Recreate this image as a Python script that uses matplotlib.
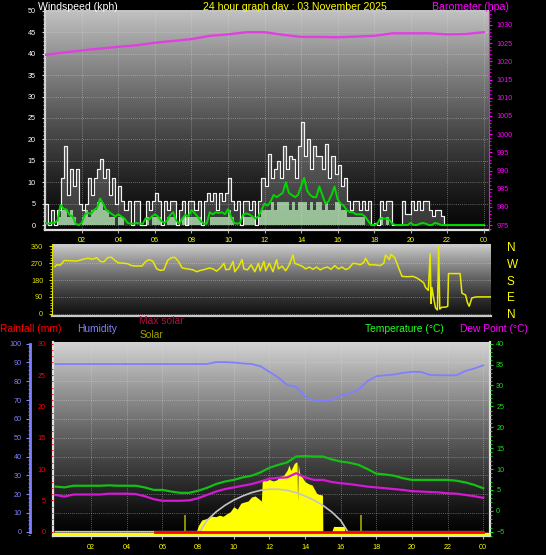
import matplotlib
matplotlib.use('Agg')

import matplotlib.pyplot as plt  # noqa: E402
import numpy as np               # noqa: E402
from matplotlib.ticker import MultipleLocator  # noqa: E402

plt.rcParams['font.family'] = ['Liberation Sans', 'DejaVu Sans']

W, H, DPI = 546, 555, 100

# ---------------------------------------------------------------- data ----
# wind (kph), 10-minute samples, one row per hour, last value = 24:00
wind_gust = [
    5, 0, 3.5, 0, 3.5, 11,
    18.5, 7, 13, 9, 13, 5,
    3.5, 5, 11, 7, 11, 13,
    15.5, 11, 13, 7, 11, 5,
    9, 5.5, 3.5, 5.5, 0, 5.5,
    5.5, 0, 0, 5.5, 3.5, 5.5,
    7.5, 5.5, 0, 5.5, 3.5, 5.5,
    5.5, 0, 3.5, 5.5, 0, 5.5,
    5.5, 3.5, 5.5, 0, 5.5, 7.5,
    5.5, 7.5, 3.5, 7.5, 5.5, 7.5,
    11, 5.5, 3.5, 5.5, 0, 5.5,
    5.5, 3.5, 5.5, 0, 5.5, 11,
    9, 16.5, 11, 13, 15, 11,
    18.5, 13, 16, 15.5, 11, 18.5,
    24, 16, 20, 13, 18.5, 16,
    16, 13, 19, 11, 16, 12,
    14, 9, 11, 5.5, 3.5, 5.5,
    5.5, 3.5, 5.5, 3.5, 5.5, 0,
    0.5, 0, 5.5, 3.5, 5.5, 5.5,
    0, 0, 0, 5.5, 2.5, 2.5,
    5.5, 3.5, 5.5, 3.5, 5.5, 5.5,
    3.5, 2, 3.5, 3.5, 2, 0,
    0, 0, 0, 0, 0, 0,
    0, 0, 0, 0, 0, 0,
    0,
]
wind_avg = [
    0.5, 0.3, 0.5, 0.5, 1.0, 4.7,
    3.8, 3.6, 2.3, 2.0, 0.3, 0.0,
    0.5, 2.5, 2.8, 2.6, 3.5, 4.0,
    6.2, 5.0, 3.5, 3.0, 2.5, 2.0,
    2.5, 2.0, 1.5, 0.5, 0.3, 0.3,
    0.5, 0.3, 0.3, 1.6, 1.2, 2.0,
    2.5, 2.0, 1.0, 0.5, 1.0, 2.3,
    3.0, 1.0, 0.3, 1.5, 2.4, 2.0,
    3.5, 2.8, 2.0, 1.0, 0.3, 0.3,
    3.0, 2.5, 3.0, 2.8, 3.0, 2.5,
    3.7, 2.0, 0.5, 0.3, 0.5, 2.5,
    2.7, 2.5, 2.0, 1.5, 2.0, 3.5,
    5.0, 4.5, 5.5, 7.0, 6.5, 7.0,
    7.5, 10.0, 7.5, 7.0, 6.5, 7.0,
    9.0, 11.0, 8.0, 7.0, 6.5, 6.5,
    9.0, 7.0, 5.0, 5.5, 7.0, 9.0,
    6.0, 5.0, 4.5, 3.5, 3.0, 3.0,
    2.5, 2.5, 2.5, 2.0, 1.0, 0.0,
    0.0, 0.3, 1.5, 1.5, 1.5, 1.2,
    0.3, 0.0, 0.0, 0.0, 0.0, 0.0,
    0.5, 0.0, 0.0, 0.3, 0.5, 0.3,
    0.0, 0.0, 0.5, 0.3, 0.0, 0.0,
    0, 0, 0, 0, 0, 0,
    0, 0, 0, 0, 0, 0,
    0,
]
wind_speed = [
    0, 0, 0, 0, 1.8, 3.6,
    3.6, 1.8, 3.6, 1.8, 0, 0,
    1.8, 3.6, 1.8, 3.6, 3.6, 5.4,
    5.4, 3.6, 3.6, 1.8, 1.8, 0,
    1.8, 1.8, 0, 0, 0, 0,
    0, 0, 0, 1.8, 0, 1.8,
    1.8, 1.8, 0, 0, 1.8, 1.8,
    1.8, 0, 0, 1.8, 1.8, 1.8,
    1.8, 1.8, 1.8, 0, 0, 0,
    1.8, 1.8, 1.8, 1.8, 1.8, 1.8,
    3.6, 1.8, 0, 0, 0, 1.8,
    1.8, 1.8, 1.8, 0, 1.8, 3.6,
    3.6, 3.6, 5.4, 3.6, 5.4, 5.4,
    5.4, 5.4, 3.6, 5.4, 3.6, 5.4,
    5.4, 5.4, 3.6, 5.4, 3.6, 5.4,
    5.4, 3.6, 5.4, 3.6, 3.6, 5.4,
    5.4, 3.6, 3.6, 1.8, 1.8, 1.8,
    1.8, 1.8, 1.8, 0, 0, 0,
    0, 0, 1.8, 0, 1.8, 0,
    0, 0, 0, 0, 0, 0,
    0, 0, 0, 0, 0, 0,
    0, 0, 0, 0, 0, 0,
    0, 0, 0, 0, 0, 0,
    0, 0, 0, 0, 0, 0,
    0,
]

# barometer (hPa), hourly 00..24
baro_hpa = [1021.8, 1022.4, 1023.0, 1023.5, 1024.0, 1024.4, 1025.1, 1025.6,
            1026.1, 1027.0, 1027.4, 1028.0, 1028.0, 1027.3, 1026.7, 1026.7,
            1026.6, 1026.8, 1027.0, 1027.7, 1027.7, 1027.7, 1027.4, 1027.5,
            1028.0]

# wind direction (degrees)
dir_hours = [0.0, 0.1, 0.3, 0.5, 0.8, 1.2, 1.5, 1.8, 2.1, 2.3, 2.5, 2.7, 2.9,
             3.1, 3.3, 3.5, 3.8, 4.0, 4.2, 4.5, 4.8, 5.0, 5.2, 5.4, 5.6, 5.8,
             6.0, 6.2, 6.4, 6.6, 6.8, 7.0, 7.3, 7.6, 7.8, 8.0, 8.2, 8.5, 8.7,
             8.9, 9.1, 9.3, 9.4, 9.6, 9.8, 9.9, 10.1, 10.3, 10.4, 10.6, 10.8,
             11.0, 11.2, 11.3, 11.5, 11.6, 11.8, 12.0, 12.2, 12.3, 12.5, 12.7,
             12.9, 13.1, 13.2, 13.4, 13.6, 13.8, 14.0, 14.2, 14.4, 14.6, 14.8,
             15.0, 15.2, 15.4, 15.6, 15.8, 16.0, 16.2, 16.4, 16.6, 16.8, 17.0,
             17.1, 17.3, 17.6, 17.9, 18.1, 18.2, 18.4, 18.5, 18.7, 18.9, 19.1,
             19.4, 19.7, 19.9, 20.1, 20.3, 20.4, 20.55, 20.65, 20.7, 20.75,
             20.85, 20.95, 21.05, 21.12, 21.18, 21.3, 21.5, 21.62, 21.66,
             22.3, 22.4, 22.6, 22.7, 22.8, 22.95, 23.2, 24.0]
dir_deg = [252, 262, 260, 285, 284, 282, 290, 297, 292, 300, 280, 278, 300,
           303, 285, 272, 270, 268, 258, 255, 256, 280, 290, 280, 240, 232,
           235, 285, 300, 302, 280, 245, 240, 235, 225, 232, 236, 245, 240,
           228, 245, 270, 236, 238, 280, 225, 250, 290, 240, 235, 262,
           225, 270, 230, 280, 230, 270, 225, 290, 240, 255, 230,
           262, 315, 270, 262, 255, 240, 250, 238, 250, 235, 245,
           250, 238, 258, 240, 250, 236, 245, 270, 268, 262, 275,
           297, 262, 262, 258, 270, 315, 290, 318, 300, 250, 200,
           198, 200, 192, 180, 165, 140, 125, 320, 55, 140,
           80, 30, 20, 360, 25, 35, 35, 40, 215,
           215, 110, 100, 60, 40, 85, 90, 90]

# humidity (%), temperature and dew point (deg C), half-hourly 00:00..24:00
humidity = [89.2] * 18 + [
    90.2, 90.2, 90.0, 89.5, 89.2, 88.0, 85.0, 82.0, 78.0, 77.0, 72.0, 69.5,
    70.0, 70.0, 72.5, 73.5, 75.5, 80.0, 82.7, 83.2, 83.6, 84.5, 85.0, 85.0,
    83.4, 83.2, 83.2, 83.2, 85.5, 86.8, 88.5]
temperature = [5.8, 5.6, 6.0, 6.0, 6.0, 6.0, 6.1, 6.0, 6.0, 6.0, 5.6, 5.0,
               5.0, 4.6, 4.3, 4.3, 4.8, 5.5, 6.4, 7.0, 7.4, 8.0, 8.4, 9.2,
               10.3, 11.0, 11.6, 13.0, 13.1, 13.0, 13.0, 12.3, 11.8, 11.5,
               11.0, 10.0, 8.9, 8.7, 8.4, 7.8, 7.4, 7.4, 7.4, 7.4, 7.4, 7.2,
               6.8, 6.2, 5.4]
dew_point = [3.8, 3.4, 3.9, 3.9, 3.9, 3.9, 4.1, 4.1, 4.1, 4.0, 3.5, 2.8,
             2.4, 2.4, 2.4, 2.5, 3.0, 3.8, 4.6, 5.2, 5.6, 6.0, 6.4, 7.0,
             7.7, 7.9, 8.0, 9.0, 8.0, 7.4, 7.4, 6.9, 6.6, 6.4, 6.1, 5.8,
             5.6, 5.4, 5.2, 5.0, 4.7, 4.6, 4.5, 4.4, 4.2, 4.1, 3.8, 3.5, 3.1]

# solar radiation (W/m2)
solar_hours = [0, 7.9, 8.0, 8.2, 8.5, 8.7, 9.0, 9.2, 9.4, 9.6, 9.8, 10.0,
               10.2, 10.4, 10.6, 10.8, 11.0, 11.2, 11.4, 11.55, 11.6, 11.8,
               12.0, 12.2, 12.4, 12.6, 12.8, 13.0, 13.1, 13.2, 13.4, 13.55,
               13.58, 13.62, 13.7, 14.0, 14.2, 14.4, 14.65, 14.8, 14.98,
               15.0, 15.5, 15.6, 16.2, 16.25, 24]
solar_wm2 = [0, 0, 30, 62, 71, 83, 80, 88, 82, 95, 106, 133, 120, 152, 158,
             163, 185, 190, 175, 163, 275, 270, 278, 270, 275, 295, 300, 328,
             355, 325, 364, 372, 160, 360, 310, 266, 255, 248, 204, 198, 195,
             0, 0, 28, 28, 0, 0]
max_solar_hours = [0, 8.1, 8.5, 9.0, 9.5, 10.0, 10.5, 11.0, 11.5, 12.0,
                   12.25, 12.5, 13.0, 13.5, 14.0, 14.5, 15.0, 15.5, 16.0,
                   16.4, 24]
max_solar_wm2 = [0, 0, 60, 105, 140, 168, 190, 208, 220, 226, 226, 226, 220,
                 208, 190, 168, 140, 105, 60, 0, 0]
sun_times = [7.25, 17.15]          # sunrise / sunset markers

# rainfall (mm)
rain_hours = [5.6, 24.0]
rain_mm = [0.0, 0.0]

hour_ticks = list(range(2, 25, 2))
hour_labels = ['%02d' % (h % 24) for h in hour_ticks]

# -------------------------------------------------------------- helpers ---
fig = plt.figure(figsize=(W / DPI, H / DPI), dpi=DPI, facecolor='black')


def px_axes(x0, y0, x1, y1):
    """Axes placed by pixel box (left, top, right, bottom)."""
    return fig.add_axes([x0 / W, 1 - y1 / H, (x1 - x0) / W, (y1 - y0) / H])


def gradient(ax, top, bottom, gamma=1.3):
    t = np.linspace(0, 1, 256)[:, None]
    v = (bottom + (top - bottom) * t ** gamma) / 255.0
    img = np.dstack([v, v, v])
    ax.imshow(img, extent=[0, 1, 0, 1], transform=ax.transAxes,
              origin='lower', aspect='auto', zorder=0,
              interpolation='bilinear')


def hide_spines(ax, keep=()):
    for name, sp in ax.spines.items():
        sp.set_visible(name in keep)


GRID = dict(color='#e0e0e0', lw=0.6, ls=(0, (1, 1.5)), alpha=0.5)
TICK_FS = 5.2

# ------------------------------------------------- panel 1: wind + baro ---
wind_hours = np.linspace(0, 24, len(wind_gust))
baro_hours = np.linspace(0, 24, len(baro_hpa))

ax1 = px_axes(45.3, 10, 489.2, 229.5)
gradient(ax1, 195, 8)
ax1.set_xlim(0, 24.3)
ax1.set_ylim(-1.05, 50.2)
ax1.set_yticks(range(0, 51, 5))
ax1.yaxis.set_minor_locator(MultipleLocator(1))
ax1.set_xticks(hour_ticks)
ax1.set_xticklabels(hour_labels)
ax1.grid(True, **GRID)
ax1.set_axisbelow(False)
# gust trace drawn densely in the original: a faint fill gives that body
ax1.fill_between(wind_hours, wind_gust, step='post', color='#e6e6e6',
                 alpha=0.22, lw=0, zorder=2)
ax1.fill_between(wind_hours, wind_speed, step='post', color='#c0f8c0',
                 alpha=0.7, lw=0, zorder=2)
ax1.step(wind_hours, wind_gust, where='post', color='#f2f2f2', lw=0.85,
         zorder=3)
ax1.plot(wind_hours, wind_avg, color='#00d800', lw=1.4, zorder=4)
ax1.tick_params(axis='y', which='both', colors='#d8d8d8', labelsize=TICK_FS,
                labelcolor='#fffff0', length=2.5, pad=4.5)
ax1.tick_params(axis='y', which='minor', length=1.5)
ax1.tick_params(axis='x', colors='#b0b0b0', labelcolor='#ffff00',
                labelsize=TICK_FS, length=2, pad=3.5)
hide_spines(ax1, keep=('left', 'bottom'))
ax1.spines['left'].set_color('#d0d0d0')
ax1.spines['left'].set_linewidth(1.6)
ax1.spines['bottom'].set_color('#e0e0e0')
ax1.spines['bottom'].set_linewidth(1.6)

ax1b = ax1.twinx()
ax1b.plot(baro_hours, baro_hpa, color='#e040e0', lw=1.7, zorder=5)
ax1b.set_ylim(973.8, 1034.1)
ax1b.set_yticks(range(975, 1031, 5))
ax1b.yaxis.set_minor_locator(MultipleLocator(1))
ax1b.tick_params(axis='y', which='both', colors='#ff00ff',
                 labelsize=TICK_FS, length=2.5, pad=2.5)
ax1b.tick_params(axis='y', which='minor', length=1.5)
hide_spines(ax1b, keep=('right',))
ax1b.spines['right'].set_color('#ff00ff')
ax1b.spines['right'].set_linestyle((0, (1, 1)))

fig.text(38 / W, 1 - 9.8 / H, 'Windspeed (kph)', color='white',
         fontsize=7.6, va='baseline', ha='left')
fig.text(294.6 / W, 1 - 9.8 / H, '24 hour graph day : 03 November 2025',
         color='#ffff00', fontsize=7.6, va='baseline', ha='center')
fig.text(508.4 / W, 1 - 9.8 / H, 'Barometer (hpa)', color='#ff00ff',
         fontsize=7.6, va='baseline', ha='right')

# ------------------------------------------ panel 2: wind direction -------
ax2 = px_axes(52.2, 244.4, 491, 316)
gradient(ax2, 205, 18)
ax2.set_xlim(-0.15, 24.0)
ax2.set_ylim(-12.3, 371.2)
ax2.set_yticks([0, 90, 180, 270, 360])
ax2.yaxis.set_minor_locator(MultipleLocator(15))
ax2.set_xticks([])
ax2.grid(True, axis='y', **GRID)
ax2.plot(dir_hours, dir_deg, color='#e8e800', lw=1.1, zorder=3)
ax2.tick_params(axis='y', which='both', colors='#e0e000',
                labelsize=TICK_FS, length=2.5, pad=4)
ax2.tick_params(axis='y', which='minor', length=1.5)
hide_spines(ax2, keep=('left', 'bottom'))
ax2.spines['left'].set_color('#e0e000')
ax2.spines['left'].set_linestyle((0, (1, 1)))
ax2.spines['bottom'].set_color('#c8c8c8')
ax2.spines['bottom'].set_linewidth(1.6)

ax2b = ax2.twinx()
ax2b.set_ylim(ax2.get_ylim())
ax2b.set_yticks([360, 270, 180, 90, 0])
ax2b.set_yticklabels(['N', 'W', 'S', 'E', 'N'])
ax2b.tick_params(axis='y', colors='#ffff00', labelsize=8.5, length=0,
                 pad=11.5)
hide_spines(ax2b)

# ------------------------- panel 3: rain, humidity, solar, temperature ----
half_hours = np.linspace(0, 24, len(humidity))

ax3 = px_axes(52.9, 342, 490, 536.2)          # solar scale (hidden)
gradient(ax3, 212, 0, gamma=1.2)
ax3.set_xlim(-0.15, 24.38)
ax3.set_ylim(-23.9, 1009)
ax3.set_yticks(range(0, 1001, 100))
ax3.set_xticks(hour_ticks)
ax3.set_xticklabels(hour_labels)
ax3.grid(True, **GRID)
ax3.tick_params(axis='y', length=0, labelleft=False)
ax3.tick_params(axis='x', colors='#b0b0b0', labelcolor='#ffff00',
                labelsize=TICK_FS, length=2, pad=3.5)
ax3.fill_between(solar_hours, solar_wm2, color='#ffff00', lw=0, zorder=2)
ax3.plot(max_solar_hours, max_solar_wm2, color='#c4c4c4', lw=1.2, zorder=3)
ax3.vlines(sun_times, -12, 88, color='#a8a800', lw=1.2, zorder=3)
ax3.axhline(-12, color='#ffff00', lw=1.6, zorder=3)
hide_spines(ax3, keep=('left', 'bottom', 'right'))
for name in ('left', 'bottom', 'right'):
    ax3.spines[name].set_color('#e0e0e0')
    ax3.spines[name].set_linewidth(1.6)

ax3r = ax3.twinx()                            # rainfall (left, red)
ax3r.yaxis.set_ticks_position('left')
ax3r.set_ylim(-0.72, 30.27)
ax3r.set_yticks(range(0, 31, 5))
ax3r.yaxis.set_minor_locator(MultipleLocator(1))
ax3r.plot(rain_hours, rain_mm, color='#ff0000', lw=2.0, zorder=4)
ax3r.tick_params(axis='y', which='both', colors='#ff0000',
                 labelsize=TICK_FS, length=1.5, pad=3.5)
hide_spines(ax3r)

ax3h = ax3.twinx()                            # humidity (far left, blue)
ax3h.yaxis.set_ticks_position('left')
ax3h.spines['left'].set_position(('axes', -0.0517))
ax3h.set_ylim(-2.39, 100.9)
ax3h.set_yticks(range(0, 101, 10))
ax3h.yaxis.set_minor_locator(MultipleLocator(2))
ax3h.plot(half_hours, humidity, color='#8080ff', lw=1.3, zorder=4)
ax3h.tick_params(axis='y', which='both', colors='#8080ff',
                 labelsize=TICK_FS, length=3, pad=3)
ax3h.tick_params(axis='y', which='minor', length=1.8)
hide_spines(ax3h, keep=('left',))
ax3h.spines['left'].set_color('#8080ff')
ax3h.spines['left'].set_linewidth(2)
ax3h.spines['left'].set_bounds(0, 100)

ax3t = ax3.twinx()                            # temperature (right, green)
ax3t.set_ylim(-6.08, 40.41)
ax3t.set_yticks(range(-5, 41, 5))
ax3t.yaxis.set_minor_locator(MultipleLocator(1))
ax3t.plot(half_hours, temperature, color='#14c014', lw=1.6, zorder=4)
ax3t.plot(half_hours, dew_point, color='#d418d4', lw=1.6, zorder=4)
ax3t.tick_params(axis='y', which='both', colors='#10e010',
                 labelsize=TICK_FS, length=2.2, pad=2.3)
ax3t.tick_params(axis='y', which='minor', length=1.2)
hide_spines(ax3t)

LEG_FS = 7.4
fig.text(0 / W, 1 - 331.5 / H, 'Rainfall (mm)', color='#ff0000',
         fontsize=LEG_FS, va='baseline', ha='left')
fig.text(77.3 / W, 1 - 331.5 / H, 'Humidity', color='#8080ff',
         fontsize=LEG_FS, va='baseline', ha='left')
fig.text(139.3 / W, 1 - 324.5 / H, 'Max solar', color='#b01040',
         fontsize=LEG_FS, va='baseline', ha='left')
fig.text(139.3 / W, 1 - 337.5 / H, 'Solar', color='#a0a000',
         fontsize=LEG_FS, va='baseline', ha='left')
fig.text(364.6 / W, 1 - 331.5 / H, 'Temperature (\u00b0C)', color='#20ff20',
         fontsize=LEG_FS, va='baseline', ha='left')
fig.text(459.6 / W, 1 - 331.5 / H, 'Dew Point (\u00b0C)', color='#ff00ff',
         fontsize=LEG_FS, va='baseline', ha='left')

fig.savefig('out.png', dpi=DPI, facecolor='black')
plt.close(fig)
